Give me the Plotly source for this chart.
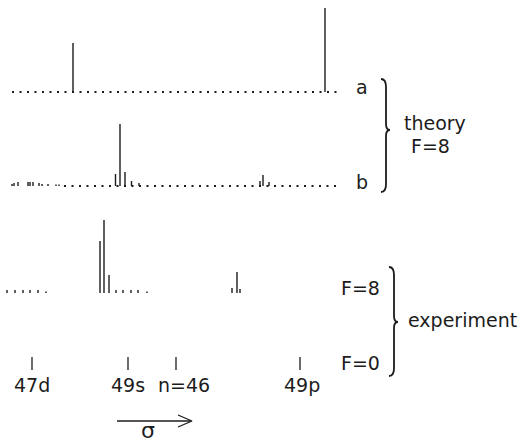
import plotly.graph_objects as go

# ---- data (σ position in arbitrary units, intensities in arbitrary units) ----
# theory a
a_base = 92
a_span = [12, 338]
a_pos = [73, 325]
a_int = [49, 84]

# theory b
b_base = 186
b_span = [64, 338]
b_pos = [12, 14, 18, 28, 30, 33, 39, 42, 48, 56, 59,
         115.5, 120, 125, 131.5, 139, 260, 263, 269]
b_int = [2, 3, 4, 4, 4, 4, 3, 2, 2, 1.5, 1.5,
         12, 62, 14, 5, 3, 5, 11, 4]

# experiment F=8
e_base = 293
e_pos = [7, 15, 23, 30, 38, 46, 100, 104, 109, 116, 123, 131, 138, 147, 232, 237, 240]
e_int = [3, 3, 3, 3, 3, 1.5, 52, 73, 18, 3, 3, 3, 3, 1.5, 5, 21, 4]

# reference line positions
ref_pos = [32, 128, 176, 300]
ref_labels = ["47d", "49s", "n=46", "49p"]
ref_label_x = [32, 128, 184, 302]

INK = "#1c1c1c"
FONT = "DejaVu Sans"

fig = go.Figure()


def sticks(pos, ints, base, width=1.4):
    xs, ys = [], []
    for p, h in zip(pos, ints):
        xs += [p, p, None]
        ys += [base, base - h, None]
    fig.add_trace(go.Scatter(x=xs, y=ys, mode="lines",
                             line=dict(color=INK, width=width),
                             hoverinfo="skip", showlegend=False))


def dotted(span, base):
    fig.add_trace(go.Scatter(x=span, y=[base, base], mode="lines",
                             line=dict(color=INK, width=2, dash="2px,5.5px"),
                             hoverinfo="skip", showlegend=False))


dotted(a_span, a_base)
sticks(a_pos, a_int, a_base)
dotted(b_span, b_base)
sticks(b_pos, b_int, b_base)
sticks(e_pos, e_int, e_base)

# reference ticks
xs, ys = [], []
for p in ref_pos:
    xs += [p, p, None]
    ys += [357, 370, None]
fig.add_trace(go.Scatter(x=xs, y=ys, mode="lines", line=dict(color=INK, width=1.3),
                         hoverinfo="skip", showlegend=False))

# sigma arrow
fig.add_trace(go.Scatter(x=[117, 191, None, 178, 192, 178],
                         y=[421, 421, None, 415, 421, 427], mode="lines",
                         line=dict(color=INK, width=1.3),
                         hoverinfo="skip", showlegend=False))


def brace(xl, xv, xt, top, mid, bot):
    return (f"M {xl},{top} Q {xv},{top} {xv},{top+8} L {xv},{mid-6} "
            f"Q {xv},{mid} {xt},{mid} Q {xv},{mid} {xv},{mid+6} "
            f"L {xv},{bot-8} Q {xv},{bot} {xl},{bot}")


shapes = [
    dict(type="path", xref="x", yref="y", path=brace(381, 386, 390, 79, 130, 192),
         line=dict(color=INK, width=1.8)),
    dict(type="path", xref="x", yref="y", path=brace(389, 394, 398, 267, 322, 376),
         line=dict(color=INK, width=1.8)),
]

texts = [
    ("a", 362, 87, 19, "middle"), ("b", 362, 182, 19, "middle"),
    ("theory", 435, 123, 19, "middle"), ("F=8", 430, 146, 19, "middle"),
    ("F=8", 360, 288, 19, "middle"), ("F=0", 360, 363, 19, "middle"),
    ("experiment", 462, 320, 19, "middle"),
    ("σ", 148, 444, 22, "bottom"),
]
for lab, x in zip(ref_labels, ref_label_x):
    texts.append((lab, x, 385, 19, "middle"))

annotations = [dict(text=t, x=x, y=y, xref="x", yref="y", showarrow=False,
                    xanchor="center", yanchor=ya, borderpad=0,
                    font=dict(family=FONT, size=s, color=INK))
               for t, x, y, s, ya in texts]

fig.update_layout(
    width=518, height=445,
    margin=dict(l=0, r=0, t=0, b=0),
    paper_bgcolor="white", plot_bgcolor="white",
    xaxis=dict(range=[0, 518], visible=False, fixedrange=True),
    yaxis=dict(range=[445, 0], visible=False, fixedrange=True),
    shapes=shapes, annotations=annotations,
    showlegend=False,
)

fig.write_html("out.html", config={"displayModeBar": False},
               post_script="document.body.style.margin='0';document.body.style.overflow='hidden';")
